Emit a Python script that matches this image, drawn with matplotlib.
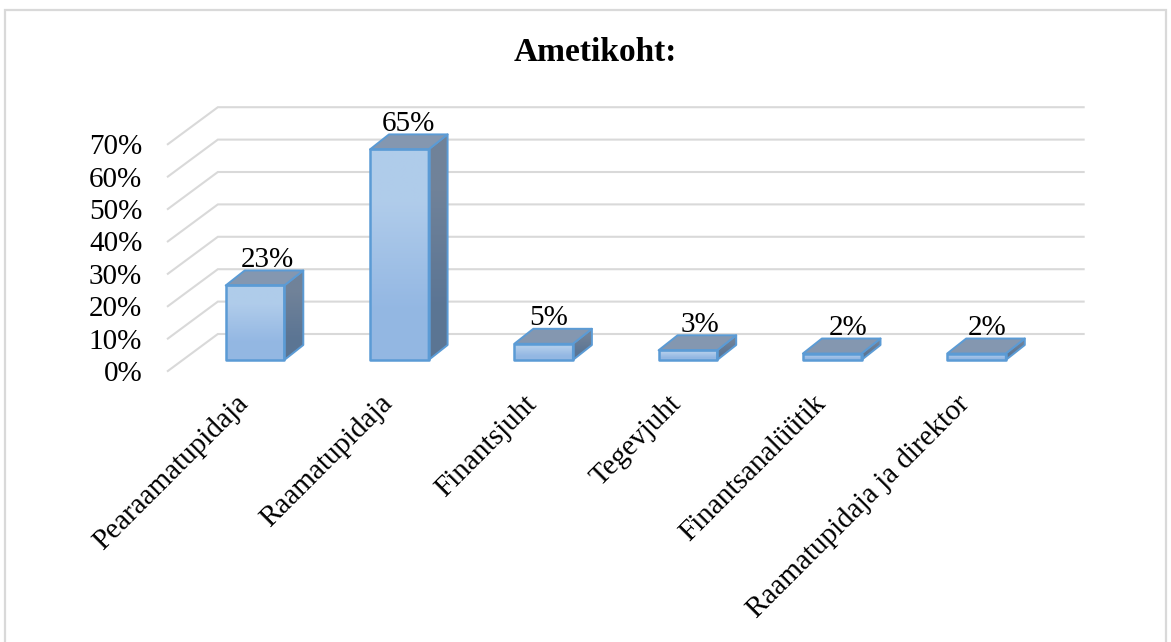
import numpy as np
import matplotlib
matplotlib.use("Agg")
import matplotlib.pyplot as plt
from matplotlib.patches import Polygon, Rectangle
from matplotlib.transforms import ScaledTranslation

plt.rcParams["font.family"] = ["Liberation Serif", "DejaVu Serif"]

categories = ["Pearaamatupidaja", "Raamatupidaja", "Finantsjuht", "Tegevjuht",
              "Finantsanalüütik", "Raamatupidaja ja direktor"]
values = [23, 65, 5, 3, 2, 2]
ticks = [0, 10, 20, 30, 40, 50, 60, 70]

W, H = 1171, 642
CAT_PX = 144.3
PCT_PX = 3.24
LEFT_PX, FLOOR_PX = 168.0, 371.0
X0_PX, Y0_PX = 255.0, 360.0  # category 0, value 0


def dx(px):
    return px / CAT_PX


def dy(px):
    return px / PCT_PX


fig = plt.figure(figsize=(W / 100, H / 100), dpi=100)
fig.patch.set_facecolor("white")

ax = fig.add_axes([LEFT_PX / W, 1 - FLOOR_PX / H, (1090 - LEFT_PX) / W, (FLOOR_PX - 60) / H])
for s in ax.spines.values():
    s.set_visible(False)

# walls
grid = "#d9d9d9"
x_front, x_back = -0.5 + dx(-15), -0.5 + dx(35)
x_right = 5.5 + dx(35)
for t in ticks:
    yf = t + dy(-11)
    yb = t + dy(26)
    ax.plot([x_front, x_back, x_right], [yf, yb, yb], color=grid, lw=1.5, zorder=1,
            solid_joinstyle="miter", clip_on=False)

# bars
half = dx(29.3)
ox, oy = dx(19), dy(15)
edge = "#5b9bd5"
front_grad = np.array([[0.69, 0.80, 0.92], [0.58, 0.72, 0.89]]).reshape(2, 1, 3)
side_grad = np.array([[0.44, 0.51, 0.60], [0.36, 0.46, 0.58]]).reshape(2, 1, 3)

for i, v in enumerate(values):
    l, r = i - half, i + half
    front = Polygon([(l, 0), (r, 0), (r, v), (l, v)], closed=True, fc="none", ec=edge, lw=1.8,
                    zorder=5, joinstyle="round", clip_on=False)
    side = Polygon([(r, 0), (r + ox, oy), (r + ox, v + oy), (r, v)], closed=True, fc="none",
                   ec=edge, lw=1.4, zorder=4, joinstyle="round", clip_on=False)
    top = Polygon([(l, v), (r, v), (r + ox, v + oy), (l + ox, v + oy)], closed=True, fc="#8497b0",
                  ec=edge, lw=1.4, zorder=4, joinstyle="round", clip_on=False)
    ax.add_patch(side)
    ax.add_patch(top)
    ax.add_patch(front)
    im = ax.imshow(side_grad, extent=(r, r + ox, 0, v + oy), aspect="auto", zorder=3,
                   interpolation="bilinear")
    im.set_clip_path(side)
    im2 = ax.imshow(front_grad, extent=(l, r, 0, v), aspect="auto", zorder=3,
                    interpolation="bilinear")
    im2.set_clip_path(front)

# imshow resets limits
ax.set_xlim((LEFT_PX - X0_PX) / CAT_PX, (1090 - X0_PX) / CAT_PX)
ax.set_ylim((Y0_PX - FLOOR_PX) / PCT_PX, (Y0_PX - 60) / PCT_PX)

label_nudge = [12, 9, 5, 12, 16, 11]
for i, v in enumerate(values):
    ax.annotate(f"{v}%", (i, v + oy), xytext=(label_nudge[i] * 0.72, 2.5), textcoords="offset points",
                ha="center", va="baseline", fontsize=21, color="black", zorder=6,
                annotation_clip=False)

# the front edge of the floor sits below the bars, ticks follow it
ax.set_yticks([t + dy(-11) for t in ticks], [f"{t}%" for t in ticks], fontsize=21)
ax.set_xticks(range(len(categories)))
ax.set_xticklabels(categories, rotation=45, ha="right", rotation_mode="anchor", fontsize=21)
ax.tick_params(axis="y", length=0, pad=18.5)
ax.tick_params(axis="x", length=0, pad=14)
shift = ScaledTranslation(-20 / 100, 0, fig.dpi_scale_trans)
for lab in ax.get_xticklabels():
    lab.set_transform(lab.get_transform() + shift)

fig.text(595 / W, 1 - 61 / H, "Ametikoht:", ha="center", va="baseline", fontsize=24,
         fontweight="bold", color="black")

# chart frame
border = "#d9d9d9"
fig.add_artist(Rectangle((5.5 / W, -0.01), (1166 - 5.5) / W, 1 - 10.5 / H + 0.01,
                         transform=fig.transFigure, fc="none", ec=border, lw=1.6))

fig.savefig("out.png", dpi=100)
